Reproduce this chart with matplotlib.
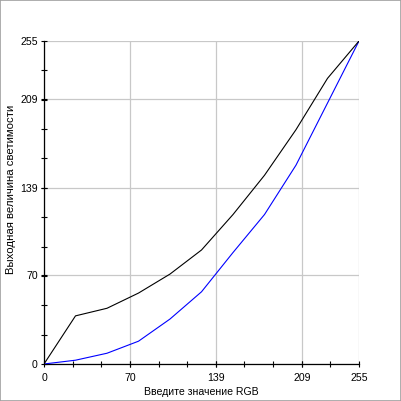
import matplotlib
matplotlib.use("Agg")
import matplotlib.pyplot as plt
from matplotlib.patches import Rectangle

# input values (x) for both curves
x_in = [0, 25.5, 51, 76.5, 102, 127.5, 153, 178.5, 204, 229.5, 255]
# black curve
black_out = [0, 38, 44, 56, 71, 90, 118, 149, 185, 225.5, 255]
# blue curve
blue_out = [0, 3, 8.5, 18, 35.5, 57, 88, 118, 157, 206, 255]

major = [0, 70, 139, 209, 255]
minor = [255 * k / 11 for k in range(12)]

plt.rcParams['font.family'] = ['Liberation Sans', 'DejaVu Sans']

fig = plt.figure(figsize=(4.01, 4.01), dpi=100)
ax = fig.add_axes([44 / 401, 1 - 364 / 401, 315 / 401, 323 / 401])

ax.plot(x_in, blue_out, color='#0000ff', lw=0.8, zorder=3)
ax.plot(x_in, black_out, color='black', lw=0.8, zorder=4)

ax.set_xlim(0, 255)
ax.set_ylim(0, 255)
ax.set_xticks(major)
ax.set_yticks(major)
ax.set_xticks(minor, minor=True)
ax.set_yticks(minor, minor=True)
ax.tick_params(which='both', direction='inout', length=5, width=0.8,
               labelsize=7.6)
ax.tick_params(axis='x', pad=4)
ax.tick_params(axis='y', pad=2)
ax.grid(True, which='major', color='#c8c8c8', lw=0.9, zorder=0)
for s in ['top', 'right']:
    ax.spines[s].set_visible(False)
for s in ['left', 'bottom']:
    ax.spines[s].set_linewidth(0.9)

ax.set_xlabel("Введите значение RGB", fontsize=7.6, labelpad=3)
fig.text(11 / 401, 1 - 189 / 401, "Выходная величина светимости",
         rotation=90, fontsize=8.2, ha='center', va='center')

fig.patches.append(Rectangle((0, 0), 1, 1, transform=fig.transFigure,
                             fill=False, edgecolor='#a0a0a0', lw=1.2))

fig.savefig("out.png", dpi=100)
